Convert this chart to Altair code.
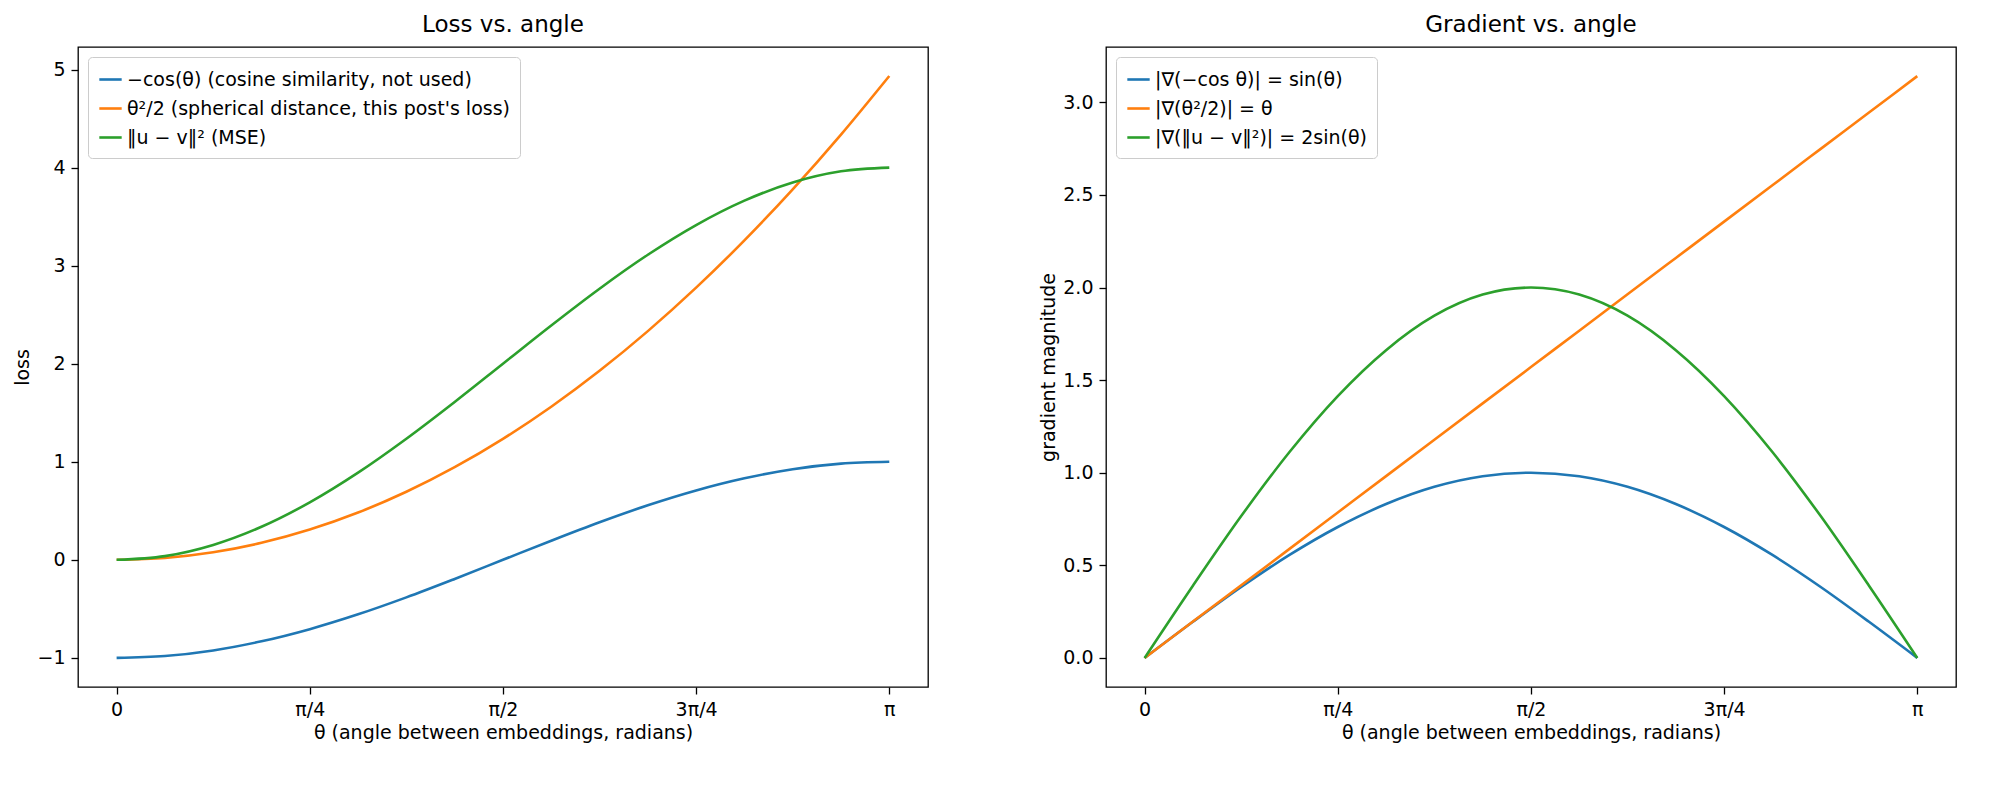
import altair as alt
import pandas as pd

theta = [0.0, 0.19635, 0.3927, 0.58905, 0.7854, 0.98175, 1.1781, 1.37445, 1.5708,
         1.76715, 1.9635, 2.15984, 2.35619, 2.55254, 2.74889, 2.94524, 3.14159]
neg_cos = [-1, -0.981, -0.924, -0.831, -0.707, -0.556, -0.383, -0.195, 0,
           0.195, 0.383, 0.556, 0.707, 0.831, 0.924, 0.981, 1]
half_sq = [0, 0.0193, 0.0771, 0.1735, 0.3084, 0.4819, 0.694, 0.9445, 1.2337,
           1.5614, 1.9277, 2.3325, 2.7758, 3.2577, 3.7782, 4.3372, 4.9348]
mse = [0, 0.038, 0.152, 0.337, 0.586, 0.889, 1.235, 1.61, 2, 2.39, 2.765,
       3.111, 3.414, 3.663, 3.848, 3.962, 4]
g_sin = [0, 0.195, 0.383, 0.556, 0.707, 0.831, 0.924, 0.981, 1, 0.981, 0.924,
         0.831, 0.707, 0.556, 0.383, 0.195, 0]
g_theta = theta
g_2sin = [0, 0.39, 0.766, 1.112, 1.414, 1.662, 1.848, 1.962, 2, 1.962, 1.848,
          1.662, 1.414, 1.112, 0.766, 0.39, 0]

left_names = ["−cos(θ) (cosine similarity, not used)",
              "θ²/2 (spherical distance, this post's loss)",
              "‖u − v‖² (MSE)"]
right_names = ["|∇(−cos θ)| = sin(θ)", "|∇(θ²/2)| = θ", "|∇(‖u − v‖²)| = 2sin(θ)"]
colors = ["#1f77b4", "#ff7f0e", "#2ca02c"]
tick_vals = [0, 0.785398, 1.570796, 2.356194, 3.141593]
xlabel = "θ (angle between embeddings, radians)"

def frame(names, series):
    rows = []
    for n, s in zip(names, series):
        for t, v in zip(theta, s):
            rows.append({"t": t, "v": v, "s": n})
    return pd.DataFrame(rows)

label_expr = ("datum.value < 0.1 ? '0' : datum.value < 1 ? 'π/4' : datum.value < 2 ? 'π/2' : "
              "datum.value < 3 ? '3π/4' : 'π'")

def panel(df, names, title, ylabel, ydom, yticks, yfmt):
    return alt.Chart(df, title=title).mark_line(strokeWidth=2.6, interpolate="monotone").encode(
        x=alt.X("t:Q", scale=alt.Scale(domain=[-0.157, 3.299], nice=False, zero=False),
                axis=alt.Axis(values=tick_vals, labelExpr=label_expr, title=xlabel)),
        y=alt.Y("v:Q", scale=alt.Scale(domain=ydom, nice=False, zero=False),
                axis=alt.Axis(values=yticks, format=yfmt, title=ylabel)),
        color=alt.Color("s:N", scale=alt.Scale(domain=names, range=colors),
                        sort=names,
                        legend=alt.Legend(title=None, orient="top-left", symbolType="stroke",
                                          symbolStrokeWidth=2.6, symbolSize=500,
                                          labelFontSize=19, labelLimit=600,
                                          strokeColor="#cccccc", fillColor="white",
                                          padding=10, cornerRadius=4, offset=10,
                                          rowPadding=6)),
    ).properties(width=850, height=640)

left = panel(frame(left_names, [neg_cos, half_sq, mse]), left_names, "Loss vs. angle", "loss",
             [-1.297, 5.23], [-1, 0, 1, 2, 3, 4, 5], "d")
right = panel(frame(right_names, [g_sin, g_theta, g_2sin]), right_names, "Gradient vs. angle",
              "gradient magnitude", [-0.157, 3.299], [0, 0.5, 1, 1.5, 2, 2.5, 3], ".1f")

chart = alt.hconcat(left, right, spacing=110).resolve_scale(color="independent").resolve_legend(
    color="independent"
).properties(background="white").configure_view(stroke="black", strokeWidth=1.3).configure_axis(
    grid=False, domain=False, tickColor="black", tickSize=7, tickWidth=1.3,
    labelFontSize=19, titleFontSize=19, labelColor="black", titleColor="black",
    labelFont="DejaVu Sans", titleFont="DejaVu Sans", titleFontWeight="normal", labelPadding=6
).configure_title(fontSize=23, font="DejaVu Sans", fontWeight="normal", offset=10
).configure_legend(labelFont="DejaVu Sans")

chart.save("out.html", embed_options={"renderer": "svg", "actions": False})
